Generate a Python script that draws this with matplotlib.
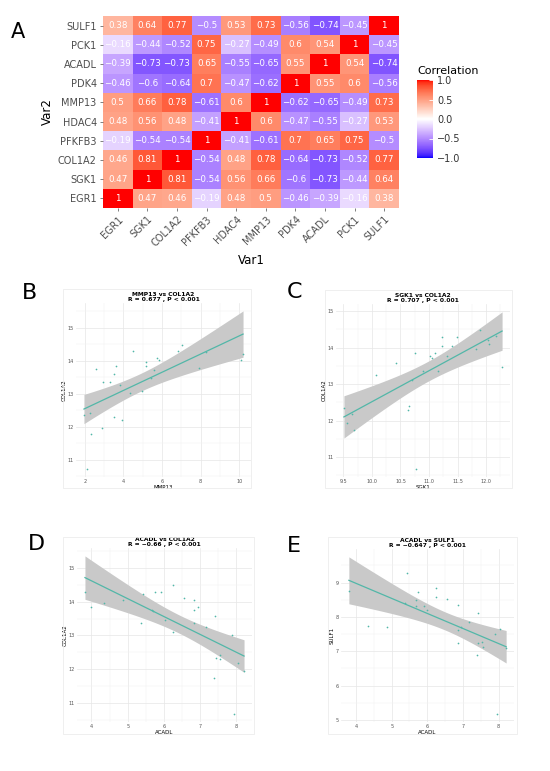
import numpy as np
import matplotlib
matplotlib.use("Agg")
import matplotlib.pyplot as plt
from matplotlib.colors import ListedColormap
from matplotlib.ticker import MultipleLocator, FormatStrFormatter
from matplotlib.patches import Rectangle

# ---- données ----
genes = ["EGR1", "SGK1", "COL1A2", "PFKFB3", "HDAC4", "MMP13", "PDK4", "ACADL", "PCK1", "SULF1"]

# lignes du bas (EGR1) vers le haut (SULF1), colonnes dans l'ordre de genes
corr = [
    [1, 0.47, 0.46, -0.19, 0.48, 0.5, -0.46, -0.39, -0.16, 0.38],
    [0.47, 1, 0.81, -0.54, 0.56, 0.66, -0.6, -0.73, -0.44, 0.64],
    [0.46, 0.81, 1, -0.54, 0.48, 0.78, -0.64, -0.73, -0.52, 0.77],
    [-0.19, -0.54, -0.54, 1, -0.41, -0.61, 0.7, 0.65, 0.75, -0.5],
    [0.48, 0.56, 0.48, -0.41, 1, 0.6, -0.47, -0.55, -0.27, 0.53],
    [0.5, 0.66, 0.78, -0.61, 0.6, 1, -0.62, -0.65, -0.49, 0.73],
    [-0.46, -0.6, -0.64, 0.7, -0.47, -0.62, 1, 0.55, 0.6, -0.56],
    [-0.39, -0.73, -0.73, 0.65, -0.55, -0.65, 0.55, 1, 0.54, -0.74],
    [-0.16, -0.44, -0.52, 0.75, -0.27, -0.49, 0.6, 0.54, 1, -0.45],
    [0.38, 0.64, 0.77, -0.5, 0.53, 0.73, -0.56, -0.74, -0.45, 1],
]

# B : MMP13 vs COL1A2
mmp13_b = [1.95, 2.26, 2.57, 2.94, 3.30, 3.51, 3.61, 3.82, 3.52, 3.91, 2.87, 2.31, 2.12, 4.34,
           4.51, 4.95, 5.15, 5.15, 5.41, 5.59, 5.74, 5.86, 6.82, 7.04, 7.89, 8.29, 10.09, 10.20]
col1a2_b = [12.34, 12.41, 13.75, 13.36, 13.36, 13.58, 13.83, 13.25, 12.30, 12.19, 11.95, 11.77, 10.71, 13.02,
            14.28, 13.08, 13.95, 13.83, 13.47, 13.72, 14.08, 14.03, 14.28, 14.46, 13.78, 14.26, 14.03, 14.19]

# C : SGK1 vs COL1A2
sgk1_c = [9.51, 9.56, 9.66, 9.69, 10.07, 10.42, 10.70, 10.75, 10.65, 10.64, 10.77, 10.89, 11.02, 11.05,
          11.11, 11.16, 11.22, 11.22, 11.32, 11.40, 11.49, 11.83, 11.90, 12.03, 12.05, 12.17, 12.28]
col1a2_c = [12.34, 11.94, 12.18, 11.75, 13.26, 13.59, 13.10, 13.85, 12.41, 12.29, 10.67, 13.37, 13.78, 13.72,
            13.85, 13.37, 14.30, 14.05, 13.76, 14.05, 14.30, 13.96, 14.49, 14.22, 14.10, 14.31, 13.48]

# D : ACADL vs COL1A2
acadl_d = [3.82, 3.98, 4.34, 4.88, 5.43, 5.38, 5.68, 5.69, 5.74, 5.91, 6.02, 6.24, 6.26, 6.54,
           6.84, 6.84, 6.94, 6.83, 7.16, 7.41, 7.89, 7.44, 7.54, 7.55, 7.38, 8.05, 8.21, 7.94]
col1a2_d = [14.29, 13.84, 13.95, 14.04, 14.22, 13.36, 13.75, 13.71, 14.29, 14.29, 13.46, 13.10, 14.49, 14.10,
            14.04, 13.74, 13.84, 13.37, 13.25, 13.58, 13.02, 12.34, 12.29, 12.42, 11.75, 12.18, 11.94, 10.67]

# E : ACADL vs SULF1
acadl_e = [3.80, 4.33, 4.86, 5.43, 5.37, 5.69, 5.67, 5.74, 5.90, 5.99, 6.25, 6.24, 6.55, 6.85,
           6.85, 6.85, 6.94, 7.17, 7.43, 7.43, 7.53, 7.56, 7.39, 7.90, 8.05, 8.21, 7.95]
sulf1_e = [8.77, 7.73, 7.70, 9.27, 8.42, 8.48, 8.31, 8.74, 8.32, 8.19, 8.85, 8.57, 8.53, 8.35,
           7.61, 7.23, 7.71, 7.84, 8.11, 7.23, 7.26, 7.12, 6.90, 7.49, 7.66, 7.10, 5.17]


# ---- palette bleu-blanc-rouge interpolée en Lab (comme ggplot) ----
def lab2rgb(L, a, b):
    fy = (L + 16) / 116
    fx = fy + a / 500
    fz = fy - b / 200
    def finv(t):
        return np.where(t > 6 / 29, t ** 3, 3 * (6 / 29) ** 2 * (t - 4 / 29))
    X, Y, Z = 0.95047 * finv(fx), finv(fy), 1.08883 * finv(fz)
    r = 3.2406 * X - 1.5372 * Y - 0.4986 * Z
    g = -0.9689 * X + 1.8758 * Y + 0.0415 * Z
    bb = 0.0557 * X - 0.2040 * Y + 1.0570 * Z
    rgb = np.stack([r, g, bb], axis=-1)
    rgb = np.where(rgb <= 0.0031308, 12.92 * rgb, 1.055 * np.abs(rgb) ** (1 / 2.4) - 0.055)
    return np.clip(rgb, 0, 1)

bleu = np.array([32.30, 79.19, -107.86])
blanc = np.array([100.0, 0.0, 0.0])
rouge = np.array([53.24, 80.09, 67.20])
t = np.linspace(0, 1, 128)[:, None]
lab_bas = bleu * (1 - t) + blanc * t
lab_haut = blanc * (1 - t) + rouge * t
labs = np.vstack([lab_bas, lab_haut])
cmap = ListedColormap(lab2rgb(labs[:, 0], labs[:, 1], labs[:, 2]))

W, H = 550, 771
fig = plt.figure(figsize=(W / 100, H / 100), dpi=100)


def box(x0, y0, x1, y1):
    # position en pixels -> fraction de figure
    return [x0 / W, 1 - y1 / H, (x1 - x0) / W, (y1 - y0) / H]


# ---- A : heatmap ----
ax = fig.add_axes(box(103, 16, 399, 208))
M = np.array(corr)
n = len(genes)
mesh = ax.pcolormesh(np.arange(n + 1), np.arange(n + 1), M, cmap=cmap, vmin=-1, vmax=1)


def fmt(v):
    s = ("%.2f" % v).rstrip("0").rstrip(".")
    return s.replace("-", "\u2212")


for i in range(n):
    for j in range(n):
        ax.text(j + 0.5, i + 0.5, fmt(M[i, j]), ha="center", va="center",
                color="white", fontsize=6.3)
ax.set_xlim(0, n)
ax.set_ylim(0, n)
ax.set_xticks(np.arange(n) + 0.5)
ax.set_yticks(np.arange(n) + 0.5)
ax.set_xticklabels(genes, rotation=45, ha="right", rotation_mode="anchor")
ax.set_yticklabels(genes)
ax.tick_params(labelsize=7, labelcolor="#4d4d4d", color="#4d4d4d", length=2.5, width=0.5, pad=2)
for s in ax.spines.values():
    s.set_visible(False)
ax.set_xlabel("Var1", fontsize=8.5, labelpad=4)
ax.set_ylabel("Var2", fontsize=8.5, labelpad=3)

cax = fig.add_axes(box(417, 80, 433, 158))
cb = fig.colorbar(mesh, cax=cax, ticks=[-1, -0.5, 0, 0.5, 1])
cb.outline.set_visible(False)
cb.ax.set_yticklabels(["\u22121.0", "\u22120.5", "0.0", "0.5", "1.0"])
cb.ax.tick_params(labelsize=7, labelcolor="#333333", color="white", length=3, width=0.6, direction="in", pad=3)
fig.text(417 / W, 1 - 71 / H, "Correlation", fontsize=8, ha="left", va="center")

fig.text(18 / W, 1 - 32 / H, "A", fontsize=15, ha="center", va="center")

# ---- B à E : nuages de points + régression linéaire ----
teal = "#52b7a8"


def nuage(pos, cadre, x, y, xlab, ylab, titre, xstep, xfmt=None):
    fig.patches.append(Rectangle((cadre[0] / W, 1 - cadre[3] / H), (cadre[2] - cadre[0]) / W,
                                 (cadre[3] - cadre[1]) / H, transform=fig.transFigure,
                                 fill=False, edgecolor="#ececec", linewidth=0.6))
    a = fig.add_axes(box(*pos))
    x = np.array(x)
    y = np.array(y)
    k = len(x)
    p = np.polyfit(x, y, 1)
    xs = np.linspace(x.min(), x.max(), 80)
    ys = np.polyval(p, xs)
    res = y - np.polyval(p, x)
    s = np.sqrt(np.sum(res ** 2) / (k - 2))
    se = s * np.sqrt(1 / k + (xs - x.mean()) ** 2 / np.sum((x - x.mean()) ** 2))
    a.fill_between(xs, ys - 2.06 * se, ys + 2.06 * se, color="#c9c9c9", lw=0, zorder=2)
    a.plot(xs, ys, color=teal, lw=0.9, zorder=3)
    a.scatter(x, y, s=1.5, color=teal, zorder=4, linewidths=0)
    a.xaxis.set_major_locator(MultipleLocator(xstep))
    a.xaxis.set_minor_locator(MultipleLocator(xstep / 2))
    a.yaxis.set_major_locator(MultipleLocator(1))
    a.yaxis.set_minor_locator(MultipleLocator(0.5))
    if xfmt:
        a.xaxis.set_major_formatter(FormatStrFormatter(xfmt))
    a.grid(which="major", color="#e6e6e6", lw=0.5)
    a.grid(which="minor", color="#f2f2f2", lw=0.35)
    a.set_axisbelow(True)
    for sp in a.spines.values():
        sp.set_visible(False)
    a.tick_params(which="both", length=0, labelsize=3.5, labelcolor="#555555", pad=1.5)
    a.set_xlabel(xlab, fontsize=4, labelpad=1)
    a.set_ylabel(ylab, fontsize=4, labelpad=1)
    a.set_title(titre, fontsize=4.3, fontweight="bold", pad=1.5, linespacing=1.1)
    return a


nuage((76, 303, 251, 477), (63, 289, 251, 488), mmp13_b, col1a2_b, "MMP13", "COL1A2",
      "MMP13 vs COL1A2\nR = 0.677 , P < 0.001", 2)
nuage((336, 304, 510, 477), (325, 290, 512, 488), sgk1_c, col1a2_c, "SGK1", "COL1A2",
      "SGK1 vs COL1A2\nR = 0.707 , P < 0.001", 0.5, "%.1f")
nuage((77, 548, 252, 722), (63, 537, 254, 734), acadl_d, col1a2_d, "ACADL", "COL1A2",
      "ACADL vs COL1A2\nR = \u22120.66 , P < 0.001", 1)
nuage((341, 549, 514, 722), (328, 537, 517, 734), acadl_e, sulf1_e, "ACADL", "SULF1",
      "ACADL vs SULF1\nR = \u22120.647 , P < 0.001", 1)

for lettre, (px, py) in zip("BCDE", [(30, 293), (294, 292), (36, 544), (294, 546)]):
    fig.text(px / W, 1 - py / H, lettre, fontsize=16, ha="center", va="center")

fig.savefig("out.png", dpi=100, facecolor="white")
